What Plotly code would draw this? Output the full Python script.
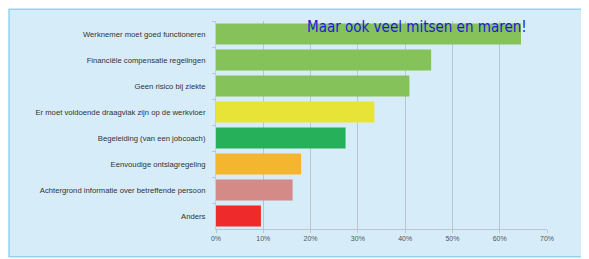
import plotly.graph_objects as go

categories = [
    "Werknemer moet goed functioneren",
    "Financiële compensatie regelingen",
    "Geen risico bij ziekte",
    "Er moet voldoende draagvlak zijn op de werkvloer",
    "Begeleiding (van een jobcoach)",
    "Eenvoudige ontslagregeling",
    "Achtergrond informatie over betreffende persoon",
    "Anders",
]
values = [64.5, 45.5, 40.9, 33.5, 27.4, 18.0, 16.2, 9.5]
bar_colors = ["#86c25a", "#86c25a", "#86c25a", "#e8e337", "#27b05a", "#f4b62e", "#d48a86", "#ee2a2a"]
tick_vals = [0, 10, 20, 30, 40, 50, 60, 70]
tick_text = ["0%", "10%", "20%", "30%", "40%", "50%", "60%", "70%"]
title_text = "Maar ook veel mitsen en maren!"

# page body has an 8px default margin: work in screen pixels, shift by OFF
OFF = 8
W, H = 589 - OFF, 259 - OFF
# plot area in screen pixels
X0, X1, Y0, Y1 = 215.7, 546.7, 20.5, 228.7
L, R, T, B = X0 - OFF, W - (X1 - OFF), Y0 - OFF, H - (Y1 - OFF)
pw, ph = W - L - R, H - T - B

def px_x(p):
    return (p - OFF - L) / pw

def px_y(p):
    return (H - B - (p - OFF)) / ph

fig = go.Figure(go.Bar(
    y=categories, x=values, orientation="h",
    marker=dict(color=bar_colors, line=dict(width=0)),
))

fig.add_shape(type="rect", xref="paper", yref="paper", layer="below",
              x0=px_x(OFF + 0.75), x1=px_x(600), y0=px_y(256.5), y1=px_y(OFF + 0.75),
              fillcolor="#d6ecf8", line=dict(color="#93d3ee", width=1.5))

fig.add_annotation(text=title_text, xref="paper", yref="paper",
                   x=px_x(417), y=px_y(15), showarrow=False,
                   font=dict(family="DejaVu Sans Condensed, Liberation Sans Narrow, sans-serif", size=15, color="#1c1cd6"))

fig.update_layout(
    width=W, height=H,
    margin=dict(l=L, r=R, t=T, b=B, pad=0, autoexpand=False),
    paper_bgcolor="white",
    plot_bgcolor="rgba(0,0,0,0)",
    bargap=0.2,
    showlegend=False,
    font=dict(family="Liberation Sans, Arial, sans-serif"),
)
fig.update_xaxes(range=[0, 70], tickvals=tick_vals, ticktext=tick_text, automargin=False,
                 showgrid=True, gridcolor="#b9c6cd", gridwidth=1,
                 showline=True, linecolor="#b9c6cd", linewidth=1,
                 ticks="outside", ticklen=3, tickcolor="#b9c6cd",
                 tickfont=dict(size=7, color="#555555"), zeroline=False)
fig.update_yaxes(autorange="reversed", type="category", automargin=False,
                 showline=True, linecolor="#c3ced4", linewidth=1,
                 ticks="outside", ticklen=3, tickcolor="#b9c6cd", tickson="boundaries",
                 ticklabelstandoff=8,
                 tickfont=dict(size=7.7, color="#333333"))

fig.write_html("out.html")
